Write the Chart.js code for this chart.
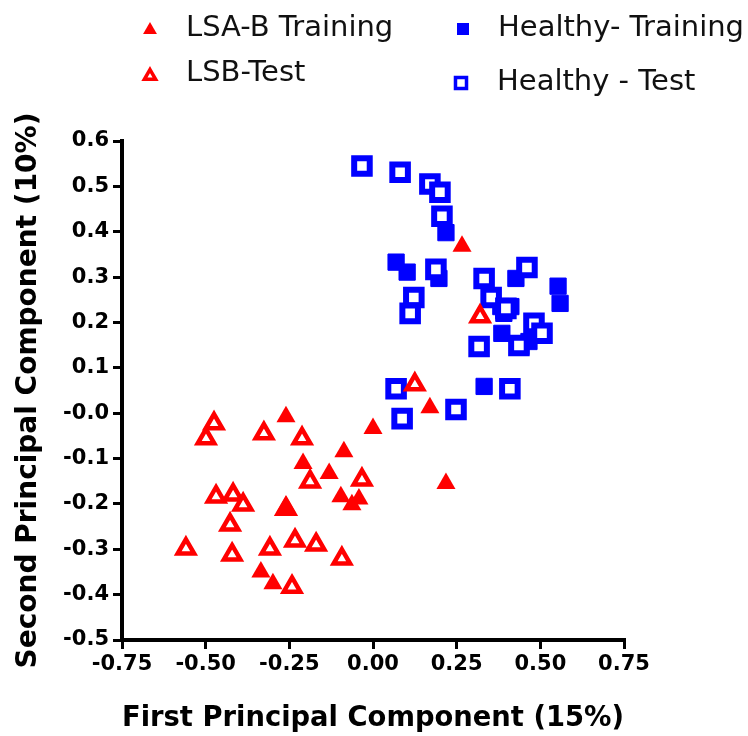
<!DOCTYPE html>
<html>
<head>
<meta charset="utf-8">
<script src="https://cdn.jsdelivr.net/npm/chart.js@4.4.1/dist/chart.umd.min.js"></script>
<style>
  html, body { margin: 0; padding: 0; background: #fff; }
  #wrap { position: relative; width: 748px; height: 736px; }
</style>
</head>
<body>
<div id="wrap"><canvas id="pca-chart"></canvas></div>
<script>
// values (PC1, PC2)
const lsaTrainX = [0.266, 0.170, 0.000, -0.087, -0.131, -0.209, -0.260, 0.218, -0.096, -0.063, -0.042, -0.260, -0.335, -0.299];
const lsaTrainY = [0.368, 0.012, -0.034, -0.085, -0.133, -0.111, -0.008, -0.155, -0.184, -0.202, -0.189, -0.206, -0.350, -0.376];

const lsbTestX = [0.320, 0.125, -0.475, -0.499, -0.326, -0.212, -0.188, -0.033, -0.469, -0.418, -0.388, -0.260, -0.427, -0.559, -0.421, -0.308, -0.233, -0.170, -0.093, -0.242];
const lsbTestY = [0.213, 0.063, -0.023, -0.056, -0.045, -0.056, -0.151, -0.147, -0.184, -0.180, -0.202, -0.211, -0.246, -0.299, -0.312, -0.299, -0.281, -0.290, -0.321, -0.383];

const healthyTrainX = [0.218, 0.069, 0.102, 0.197, 0.427, 0.553, 0.559, 0.382, 0.412, 0.391, 0.385, 0.466, 0.442, 0.332];
const healthyTrainY = [0.398, 0.333, 0.311, 0.297, 0.297, 0.280, 0.242, 0.235, 0.235, 0.220, 0.176, 0.158, 0.147, 0.059];

const healthyTestX = [-0.033, 0.081, 0.170, 0.200, 0.206, 0.188, 0.122, 0.111, 0.332, 0.460, 0.353, 0.397, 0.481, 0.505, 0.436, 0.317, 0.069, 0.409, 0.087, 0.248];
const healthyTestY = [0.545, 0.531, 0.505, 0.487, 0.434, 0.317, 0.255, 0.220, 0.297, 0.321, 0.255, 0.231, 0.198, 0.176, 0.149, 0.147, 0.054, 0.054, -0.012, 0.008];

const xTicks = [-0.75, -0.5, -0.25, 0, 0.25, 0.5, 0.75];
const yTicks = [0.6, 0.5, 0.4, 0.3, 0.2, 0.1, 0, -0.1, -0.2, -0.3, -0.4, -0.5];

const RED = "#ff0000";
const BLUE = "#0000ff";
const FONT = "'DejaVu Sans', sans-serif";

const toPoints = (xs, ys) => xs.map((x, i) => ({ x: x, y: ys[i] }));

// legend is laid out in two columns like the original, so draw it by hand
const legendItems = [
  { text: "LSA-B Training", mx: 150, my: 30, tx: 186, ty: 28, style: "triangle", fill: RED, stroke: RED, r: 8, bw: 0 },
  { text: "LSB-Test", mx: 150, my: 76, tx: 186, ty: 73, style: "triangle", fill: "#fff", stroke: RED, r: 6.5, bw: 3.5 },
  { text: "Healthy- Training", mx: 463, my: 29, tx: 498, ty: 28, style: "rect", fill: BLUE, stroke: BLUE, r: 8.5, bw: 0 },
  { text: "Healthy - Test", mx: 461, my: 83, tx: 497, ty: 82, style: "rect", fill: "#fff", stroke: BLUE, r: 7.8, bw: 3.5 },
];

const legendPlugin = {
  id: "twoColLegend",
  afterDraw(chart) {
    const ctx = chart.ctx;
    ctx.save();
    legendItems.forEach((it) => {
      ctx.fillStyle = it.fill;
      ctx.strokeStyle = it.stroke;
      ctx.lineWidth = it.bw;
      Chart.helpers.drawPoint(ctx, { pointStyle: it.style, radius: it.r, rotation: 0, borderWidth: it.bw }, it.mx, it.my);
      ctx.fillStyle = "#111";
      ctx.font = "29px " + FONT;
      ctx.textAlign = "left";
      ctx.textBaseline = "middle";
      ctx.fillText(it.text, it.tx, it.ty);
    });
    ctx.restore();
  },
};

const data = {
  datasets: [
    {
      label: "LSA-B Training",
      data: toPoints(lsaTrainX, lsaTrainY),
      pointStyle: "triangle",
      pointRadius: 11,
      backgroundColor: RED,
      borderColor: RED,
      borderWidth: 0,
      order: 1,
    },
    {
      label: "LSB-Test",
      data: toPoints(lsbTestX, lsbTestY),
      pointStyle: "triangle",
      pointRadius: 9.5,
      backgroundColor: "#fff",
      borderColor: RED,
      borderWidth: 4.5,
      order: 2,
    },
    {
      label: "Healthy- Training",
      data: toPoints(healthyTrainX, healthyTrainY),
      pointStyle: "rect",
      pointRadius: 11.5,
      backgroundColor: BLUE,
      borderColor: BLUE,
      borderWidth: 1,
      order: 4,
    },
    {
      label: "Healthy - Test",
      data: toPoints(healthyTestX, healthyTestY),
      pointStyle: "rect",
      pointRadius: 11,
      backgroundColor: "#fff",
      borderColor: BLUE,
      borderWidth: 6,
      order: 3,
    },
  ],
};

const tickFont = { family: FONT, size: 21, weight: "bold" };
const titleFont = { family: FONT, size: 28, weight: "bold" };

const options = {
  responsive: true,
  maintainAspectRatio: false,
  animation: false,
  layout: { padding: { top: 141, right: 124, bottom: 0, left: 0 } },
  plugins: {
    legend: { display: false },
    tooltip: { enabled: false },
  },
  scales: {
    x: {
      type: "linear",
      min: -0.75,
      max: 0.75,
      afterFit: (s) => { s.height = 96; },
      afterBuildTicks: (s) => { s.ticks = xTicks.map((v) => ({ value: v })); },
      ticks: {
        color: "#000",
        font: tickFont,
        padding: 3,
        maxRotation: 0,
        callback: (v) => Number(v).toFixed(2),
      },
      grid: { drawOnChartArea: false, drawTicks: true, tickLength: 9, color: "#000", lineWidth: 3 },
      border: { display: true, color: "#000", width: 4 },
      title: {
        display: true,
        text: "First Principal Component (15%)",
        color: "#000",
        font: titleFont,
        padding: { top: 0, bottom: 0 },
      },
    },
    y: {
      type: "linear",
      min: -0.5,
      max: 0.6,
      afterFit: (s) => { s.width = 122; },
      afterBuildTicks: (s) => { s.ticks = yTicks.map((v) => ({ value: v })); },
      ticks: {
        color: "#000",
        font: tickFont,
        padding: 4,
        callback: (v) => (Math.abs(v) < 1e-9 ? "-0.0" : Number(v).toFixed(1)),
      },
      grid: { drawOnChartArea: false, drawTicks: true, tickLength: 9, color: "#000", lineWidth: 3 },
      border: { display: true, color: "#000", width: 4 },
      title: {
        display: true,
        text: "Second Principal Component (10%)",
        color: "#000",
        font: titleFont,
        padding: { top: 12, bottom: 0 },
      },
    },
  },
};

const ctx = document.getElementById("pca-chart").getContext("2d");
new Chart(ctx, { type: "scatter", data, options, plugins: [legendPlugin] });
</script>
</body>
</html>
